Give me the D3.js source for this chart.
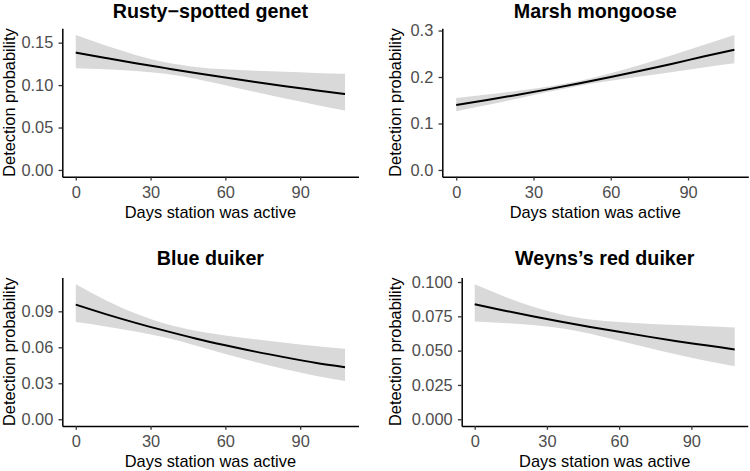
<!DOCTYPE html>
<html><head><meta charset="utf-8">
<script src="https://cdn.jsdelivr.net/npm/d3@7"></script>
<style>
body{margin:0;background:#fff}
svg{display:block}
text{font-family:"Liberation Sans",Arial,Helvetica,sans-serif}
</style>
</head><body>
<svg id="chart" width="750" height="471"></svg>
<script>
// ---- data ----
const days = [0, 12, 24, 36, 48, 60, 72, 84, 96, 108];

const titles = ["Rusty\u2212spotted genet", "Marsh mongoose", "Blue duiker", "Weyns\u2019s red duiker"];

const genetFit   = [0.1384, 0.1320, 0.1258, 0.1200, 0.1143, 0.1089, 0.1037, 0.0987, 0.0940, 0.0894];
const genetLower = [0.1200, 0.1186, 0.1167, 0.1135, 0.1076, 0.0999, 0.0918, 0.0841, 0.0769, 0.0702];
const genetUpper = [0.1590, 0.1466, 0.1356, 0.1268, 0.1214, 0.1186, 0.1169, 0.1156, 0.1144, 0.1133];

const mongooseFit   = [0.1400, 0.1507, 0.1619, 0.1739, 0.1865, 0.1998, 0.2139, 0.2286, 0.2441, 0.2588];
const mongooseLower = [0.1265, 0.1396, 0.1537, 0.1682, 0.1814, 0.1919, 0.2015, 0.2110, 0.2206, 0.2297];
const mongooseUpper = [0.1547, 0.1624, 0.1706, 0.1798, 0.1918, 0.2080, 0.2268, 0.2473, 0.2691, 0.2903];

const blueFit   = [0.0956, 0.0877, 0.0804, 0.0737, 0.0674, 0.0617, 0.0564, 0.0516, 0.0471, 0.0434];
const blueLower = [0.0810, 0.0774, 0.0732, 0.0681, 0.0615, 0.0544, 0.0477, 0.0416, 0.0362, 0.0319];
const blueUpper = [0.1125, 0.0993, 0.0882, 0.0797, 0.0739, 0.0699, 0.0667, 0.0638, 0.0611, 0.0588];

const weynsFit   = [0.0838, 0.0793, 0.0751, 0.0711, 0.0673, 0.0637, 0.0602, 0.0569, 0.0539, 0.0509];
const weynsLower = [0.0713, 0.0702, 0.0687, 0.0663, 0.0623, 0.0572, 0.0521, 0.0472, 0.0427, 0.0386];
const weynsUpper = [0.0983, 0.0896, 0.0821, 0.0763, 0.0727, 0.0708, 0.0695, 0.0686, 0.0677, 0.0669];

const xTicks = [0, 30, 60, 90];
const genetYTicks    = [0, 0.05, 0.10, 0.15];
const mongooseYTicks = [0, 0.1, 0.2, 0.3];
const blueYTicks     = [0, 0.03, 0.06, 0.09];
const weynsYTicks    = [0, 0.025, 0.05, 0.075, 0.1];

const xLabel = "Days station was active";
const yLabel = "Detection probability";

// ---- layout ----
const panels = [
  {title: titles[0], fit: genetFit, lower: genetLower, upper: genetUpper, yTicks: genetYTicks, fmt: ".2f",
   left: 62.3, right: 358.5, top: 28.3, bottom: 176.7, yTitleX: 15, titleY: 18},
  {title: titles[1], fit: mongooseFit, lower: mongooseLower, upper: mongooseUpper, yTicks: mongooseYTicks, fmt: ".1f",
   left: 442.3, right: 748.3, top: 28.3, bottom: 176.7, yTitleX: 401, titleY: 18},
  {title: titles[2], fit: blueFit, lower: blueLower, upper: blueUpper, yTicks: blueYTicks, fmt: ".2f",
   left: 62.3, right: 358.5, top: 277.6, bottom: 426, yTitleX: 15, titleY: 264.6},
  {title: titles[3], fit: weynsFit, lower: weynsLower, upper: weynsUpper, yTicks: weynsYTicks, fmt: ".3f",
   left: 461.7, right: 747.7, top: 277.6, bottom: 426, yTitleX: 401, titleY: 264.6}
];

const FS = 16.4, TFS = 19.7;
const svg = d3.select("#chart");

panels.forEach(p => {
  const rows = days.map((d, i) => ({x: d, fit: p.fit[i], lo: p.lower[i], hi: p.upper[i]}));
  const xMax = d3.max(days), yMax = d3.max(p.upper);
  const x = d3.scaleLinear().domain([-0.05 * xMax, 1.05 * xMax]).range([p.left, p.right]);
  const y = d3.scaleLinear().domain([-0.05 * yMax, 1.05 * yMax]).range([p.bottom, p.top]);

  const g = svg.append("g");

  g.append("path").datum(rows)
    .attr("fill", "#D9D9D9")
    .attr("d", d3.area().x(d => x(d.x)).y0(d => y(d.lo)).y1(d => y(d.hi)).curve(d3.curveMonotoneX));

  g.append("path").datum(rows)
    .attr("fill", "none").attr("stroke", "#000").attr("stroke-width", 2)
    .attr("d", d3.line().x(d => x(d.x)).y(d => y(d.fit)).curve(d3.curveMonotoneX));

  // x axis
  const xa = g.append("g").attr("transform", `translate(0,${p.bottom})`)
    .call(d3.axisBottom(x).tickValues(xTicks).tickFormat(d3.format("d"))
      .tickSizeInner(3.75).tickSizeOuter(0).tickPadding(5.9));
  // y axis
  const ya = g.append("g").attr("transform", `translate(${p.left},0)`)
    .call(d3.axisLeft(y).tickValues(p.yTicks).tickFormat(d3.format(p.fmt))
      .tickSizeInner(3.75).tickSizeOuter(0).tickPadding(5.25));

  [xa, ya].forEach(a => {
    a.select(".domain").attr("stroke", "#000").attr("stroke-width", 1.5);
    a.selectAll(".tick line").attr("stroke", "#333").attr("stroke-width", 1.3);
    a.selectAll(".tick text").attr("fill", "#4D4D4D").style("font-size", FS + "px")
      .style("font-family", '"Liberation Sans",Arial,Helvetica,sans-serif');
  });

  // titles
  const cx = (p.left + p.right) / 2;
  g.append("text").attr("x", cx).attr("y", p.titleY)
    .attr("text-anchor", "middle").style("font-size", TFS + "px").style("font-weight", "bold")
    .attr("fill", "#000").text(p.title);

  g.append("text").attr("x", cx).attr("y", p.bottom + 41.3)
    .attr("text-anchor", "middle").style("font-size", FS + "px").attr("fill", "#000").text(xLabel);

  const cy = (p.top + p.bottom) / 2;
  g.append("text").attr("transform", `translate(${p.yTitleX},${cy}) rotate(-90)`)
    .attr("text-anchor", "middle").style("font-size", FS + "px").attr("fill", "#000").text(yLabel);
});
</script>
</body></html>
